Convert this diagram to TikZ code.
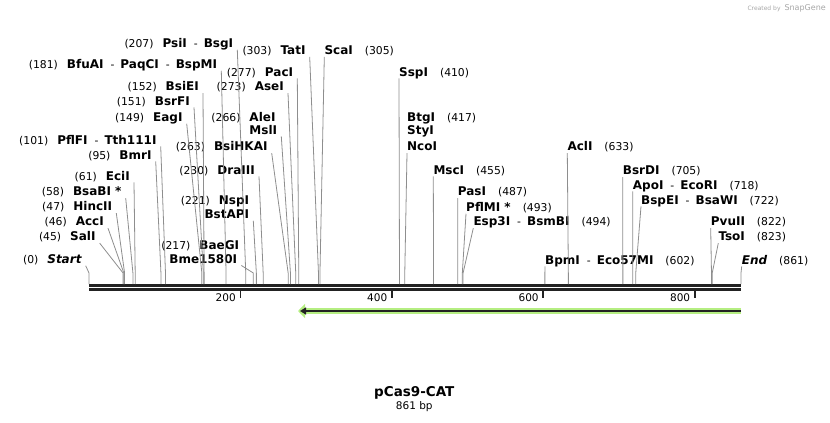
\documentclass[tikz,border=0pt]{standalone}
\usepackage{fontspec}
\setmainfont{DejaVu Sans}
\usetikzlibrary{arrows.meta}
\definecolor{siteline}{HTML}{8E8E8E}
\definecolor{catgreen}{HTML}{B5EE82}
\definecolor{axisdark}{HTML}{222222}
\newcommand\enz[1]{{\fontsize{12}{14}\selectfont\bfseries #1}}

\begin{document}
\begin{tikzpicture}
[
    x = 1pt, y = -1pt,
    lbl/.style = {font = \fontsize{10.8}{13}\selectfont, text height = 8.5pt, text depth = 2pt, inner ysep = 0pt},
    lbl left/.style = {lbl, anchor = east, inner xsep = 4pt},
    lbl right/.style = {lbl, anchor = west, inner xsep = 0pt},
    site/.style = {draw = siteline, line width = 0.8pt},
    backbone/.style = {draw = axisdark, line width = 2.6pt},
    tick/.style = {draw = axisdark, line width = 1.8pt},
    ticklbl/.style = {font = \fontsize{10.5}{12}\selectfont, anchor = east, inner sep = 0pt},
]
\useasboundingbox (0,0) rectangle (830,423);

% backbone and positions (861 bp over 652 px)
\coordinate (ori) at (89,285.3);
\coordinate (fin) at (741,285.3);
\coordinate (knee) at (0,273);
\draw[backbone] (ori) -- (fin);
\draw[backbone] ([yshift=-4.2pt]ori) -- ([yshift=-4.2pt]fin);

\coordinate (s0) at (89,284);
\coordinate (s45) at ({89+0.75726*45},284);
\coordinate (s46) at ({89+0.75726*46},284);
\coordinate (s47) at ({89+0.75726*47},284);
\coordinate (s58) at ({89+0.75726*58},284);
\coordinate (s61) at ({89+0.75726*61},284);
\coordinate (s95) at ({89+0.75726*95},284);
\coordinate (s101) at ({89+0.75726*101},284);
\coordinate (s149) at ({89+0.75726*149},284);
\coordinate (s151) at ({89+0.75726*151},284);
\coordinate (s152) at ({89+0.75726*152},284);
\coordinate (s181) at ({89+0.75726*181},284);
\coordinate (s207) at ({89+0.75726*207},284);
\coordinate (s217) at ({89+0.75726*217},284);
\coordinate (s221) at ({89+0.75726*221},284);
\coordinate (s230) at ({89+0.75726*230},284);
\coordinate (s263) at ({89+0.75726*263},284);
\coordinate (s266) at ({89+0.75726*266},284);
\coordinate (s273) at ({89+0.75726*273},284);
\coordinate (s277) at ({89+0.75726*277},284);
\coordinate (s303) at ({89+0.75726*303},284);
\coordinate (s305) at ({89+0.75726*305},284);
\coordinate (s410) at ({89+0.75726*410},284);
\coordinate (s417) at ({89+0.75726*417},284);
\coordinate (s455) at ({89+0.75726*455},284);
\coordinate (s487) at ({89+0.75726*487},284);
\coordinate (s493) at ({89+0.75726*493},284);
\coordinate (s494) at ({89+0.75726*494},284);
\coordinate (s602) at ({89+0.75726*602},284);
\coordinate (s633) at ({89+0.75726*633},284);
\coordinate (s705) at ({89+0.75726*705},284);
\coordinate (s718) at ({89+0.75726*718},284);
\coordinate (s722) at ({89+0.75726*722},284);
\coordinate (s822) at ({89+0.75726*822},284);
\coordinate (s823) at ({89+0.75726*823},284);
\coordinate (s861) at (741,284);

% ticks
\draw[tick] ({89+0.75726*200},290.5) -- ++(0,7);
\draw[tick] ({89+0.75726*400},290.5) -- ++(0,7);
\draw[tick] ({89+0.75726*600},290.5) -- ++(0,7);
\draw[tick] ({89+0.75726*800},290.5) -- ++(0,7);
\node[ticklbl] (t200) at ({89+0.75726*200-4.5},297.5) {200};
\node[ticklbl] (t400) at ({89+0.75726*400-4.5},297.5) {400};
\node[ticklbl] (t600) at ({89+0.75726*600-4.5},297.5) {600};
\node[ticklbl] (t800) at ({89+0.75726*800-4.5},297.5) {800};

% feature arrow
\coordinate (catS) at (741,311);
\coordinate (catE) at (298,311);
\draw[catgreen, line width=6pt, -{Triangle[length=7pt,width=14pt]}] (catS) -- (catE);
\draw[axisdark, line width=2pt, shorten >=2pt, -{Triangle[length=6pt,width=7pt]}] (catS) -- (catE);

% labels left of their lines
\node[lbl left] (psi) at (237.3,44.3) {(207)\hspace{9pt}\enz{PsiI}\hspace{7pt}-\hspace{6pt}\enz{BsgI}};
\node[lbl left] (bfu) at (221.3,65.3) {(181)\hspace{9pt}\enz{BfuAI}\hspace{7pt}-\hspace{6pt}\enz{PaqCI}\hspace{7pt}-\hspace{6pt}\enz{BspMI}};
\node[lbl left] (bsie) at (203,87.7) {(152)\hspace{9pt}\enz{BsiEI}};
\node[lbl left] (bsrf) at (194,102) {(151)\hspace{9pt}\enz{BsrFI}};
\node[lbl left] (eag) at (186.7,118.3) {(149)\hspace{9pt}\enz{EagI}};
\node[lbl left] (pflf) at (160.7,141) {(101)\hspace{9pt}\enz{PflFI}\hspace{7pt}-\hspace{6pt}\enz{Tth111I}};
\node[lbl left] (bmr) at (155.7,156) {(95)\hspace{9pt}\enz{BmrI}};
\node[lbl left] (eci) at (134,177) {(61)\hspace{9pt}\enz{EciI}};
\node[lbl left] (bsab) at (125.7,192.7) {(58)\hspace{9pt}\enz{BsaBI *}};
\node[lbl left] (hinc) at (116.3,207.7) {(47)\hspace{9pt}\enz{HincII}};
\node[lbl left] (acc) at (108,222.7) {(46)\hspace{9pt}\enz{AccI}};
\node[lbl left] (sal) at (99.7,237.7) {(45)\hspace{9pt}\enz{SalI}};
\node[lbl left] (start) at (85.7,260.3) {(0)\hspace{9pt}\enz{\itshape Start}};
\node[lbl left] (tat) at (309.7,51.5) {(303)\hspace{9pt}\enz{TatI}};
\node[lbl left] (pac) at (297.3,73) {(277)\hspace{9pt}\enz{PacI}};
\node[lbl left] (ase) at (288,87.7) {(273)\hspace{9pt}\enz{AseI}};
\node[lbl left] (ale) at (279.7,118.3) {(266)\hspace{9pt}\enz{AleI}};
\node[lbl left] (msl) at (281.3,131) {\enz{MslI}};
\node[lbl left] (bsihk) at (271.7,147.7) {(263)\hspace{9pt}\enz{BsiHKAI}};
\node[lbl left] (dra) at (259,171) {(230)\hspace{9pt}\enz{DraIII}};
\node[lbl left] (nsp) at (253.3,201) {(221)\hspace{9pt}\enz{NspI}};
\node[lbl left] (bstap) at (253.3,215.3) {\enz{BstAPI}};
\node[lbl left] (baeg) at (243.3,246) {(217)\hspace{9pt}\enz{BaeGI}};
\node[lbl left] (bme) at (241.3,260) {\enz{Bme1580I}};

% labels right of their lines
\node[lbl right] (sca) at (324.3,51.5) {\enz{ScaI}\hspace{12pt}(305)};
\node[lbl right] (ssp) at (399,73) {\enz{SspI}\hspace{12pt}(410)};
\node[lbl right] (btg) at (407,118.3) {\enz{BtgI}\hspace{12pt}(417)};
\node[lbl right] (sty) at (407,131.5) {\enz{StyI}};
\node[lbl right] (nco) at (407,147.7) {\enz{NcoI}};
\node[lbl right] (msc) at (433.3,171) {\enz{MscI}\hspace{12pt}(455)};
\node[lbl right] (pas) at (457.7,192.7) {\enz{PasI}\hspace{12pt}(487)};
\node[lbl right] (pflm) at (466,208.3) {\enz{PflMI *}\hspace{12pt}(493)};
\node[lbl right] (esp) at (473.3,222.7) {\enz{Esp3I}\hspace{7pt}-\hspace{6pt}\enz{BsmBI}\hspace{12pt}(494)};
\node[lbl right] (bpm) at (545,261) {\enz{BpmI}\hspace{7pt}-\hspace{6pt}\enz{Eco57MI}\hspace{12pt}(602)};
\node[lbl right] (acl) at (567.3,147.7) {\enz{AclI}\hspace{12pt}(633)};
\node[lbl right] (bsrd) at (622.7,171.7) {\enz{BsrDI}\hspace{12pt}(705)};
\node[lbl right] (apo) at (632.7,186) {\enz{ApoI}\hspace{7pt}-\hspace{6pt}\enz{EcoRI}\hspace{12pt}(718)};
\node[lbl right] (bspe) at (641,201) {\enz{BspEI}\hspace{7pt}-\hspace{6pt}\enz{BsaWI}\hspace{12pt}(722)};
\node[lbl right] (pvu) at (710.7,222.7) {\enz{PvuII}\hspace{12pt}(822)};
\node[lbl right] (tso) at (718.3,237.7) {\enz{TsoI}\hspace{12pt}(823)};
\node[lbl right] (endl) at (741.7,261) {\enz{\itshape End}\hspace{12pt}(861)};

% site lines
\draw[site] (psi.south east) -- (s207 |- knee) -- (s207);
\draw[site] (bfu.south east) -- (s181 |- knee) -- (s181);
\draw[site] (bsie.south east) -- (s152 |- knee) -- (s152);
\draw[site] (bsrf.south east) -- (s151 |- knee) -- (s151);
\draw[site] (eag.south east) -- (s149 |- knee) -- (s149);
\draw[site] (pflf.south east) -- (s101 |- knee) -- (s101);
\draw[site] (bmr.south east) -- (s95 |- knee) -- (s95);
\draw[site] (eci.south east) -- (s61 |- knee) -- (s61);
\draw[site] (bsab.south east) -- (s58 |- knee) -- (s58);
\draw[site] (hinc.south east) -- (s47 |- knee) -- (s47);
\draw[site] (acc.south east) -- (s46 |- knee) -- (s46);
\draw[site] (sal.south east) -- (s45 |- knee) -- (s45);
\draw[site] (start.south east) -- (s0 |- knee) -- (s0);
\draw[site] (tat.south east) -- (s303 |- knee) -- (s303);
\draw[site] (pac.south east) -- (s277 |- knee) -- (s277);
\draw[site] (ase.south east) -- (s273 |- knee) -- (s273);
\draw[site] (msl.south east) -- (s266 |- knee) -- (s266);
\draw[site] (bsihk.south east) -- (s263 |- knee) -- (s263);
\draw[site] (dra.south east) -- (s230 |- knee) -- (s230);
\draw[site] (bstap.south east) -- (s221 |- knee) -- (s221);
\draw[site] (bme.south east) -- (s217 |- knee) -- (s217);
\draw[site] (sca.south west) -- (s305 |- knee) -- (s305);
\draw[site] (ssp.south west) -- (s410 |- knee) -- (s410);
\draw[site] (nco.south west) -- (s417 |- knee) -- (s417);
\draw[site] (msc.south west) -- (s455 |- knee) -- (s455);
\draw[site] (pas.south west) -- (s487 |- knee) -- (s487);
\draw[site] (pflm.south west) -- (s493 |- knee) -- (s493);
\draw[site] (esp.south west) -- (s494 |- knee) -- (s494);
\draw[site] (bpm.south west) -- (s602 |- knee) -- (s602);
\draw[site] (acl.south west) -- (s633 |- knee) -- (s633);
\draw[site] (bsrd.south west) -- (s705 |- knee) -- (s705);
\draw[site] (apo.south west) -- (s718 |- knee) -- (s718);
\draw[site] (bspe.south west) -- (s722 |- knee) -- (s722);
\draw[site] (pvu.south west) -- (s822 |- knee) -- (s822);
\draw[site] (tso.south west) -- (s823 |- knee) -- (s823);
\draw[site] (endl.south west) -- (s861 |- knee) -- (s861);

% name and length
\node[font=\fontsize{13.5}{15}\selectfont\bfseries] (title) at (414.3,392.7) {pCas9-CAT};
\node[font=\fontsize{10.5}{12}\selectfont] (len) at (414.3,406.7) {861 bp};

\node[anchor=east, inner sep=0pt, text=gray!70] (credit) at (826,8) {{\fontsize{6}{7}\selectfont Created by}\hspace{4pt}{\fontsize{8}{9}\selectfont SnapGene}};
\end{tikzpicture}
\end{document}
